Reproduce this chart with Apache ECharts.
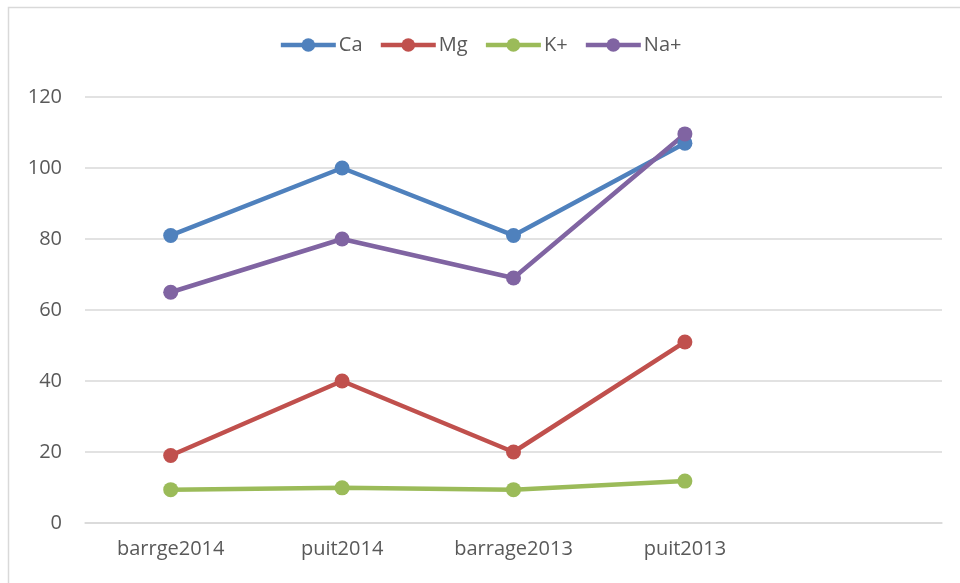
<!DOCTYPE html>
<html>
<head>
<meta charset="utf-8">
<script src="https://cdn.jsdelivr.net/npm/echarts@6/dist/echarts.min.js"></script>
<style>
  html, body { margin: 0; padding: 0; background: #fff; }
  #chart { width: 960px; height: 583px; }
</style>
</head>
<body>
<div id="chart"></div>
<script>
// Sampling sites (the last slot is left empty on the axis)
const categories = ['barrge2014', 'puit2014', 'barrage2013', 'puit2013', ''];

// Ion concentrations per site
const caValues = [81, 100, 81, 107];
const mgValues = [19, 40, 20, 51];
const kValues = [9.4, 9.9, 9.4, 11.8];
const naValues = [65, 80, 69, 109.6];

const yTicks = { min: 0, max: 120, interval: 20 };

const textColor = '#595959';
const gridColor = '#d9d9d9';
const fontFamily = '"Open Sans", "Liberation Sans", sans-serif';

function makeSeries(name, data, color) {
  return {
    name: name,
    type: 'line',
    data: data,
    symbol: 'circle',
    symbolSize: 15,
    lineStyle: { color: color, width: 4.5 },
    itemStyle: { color: color },
    emphasis: { disabled: true },
    animation: false
  };
}

const chart = echarts.init(document.getElementById('chart'));
chart.setOption({
  backgroundColor: '#fff',
  textStyle: { fontFamily: fontFamily },
  graphic: [{
    type: 'rect',
    shape: { x: 8.5, y: 7.5, width: 1000, height: 1000 },
    style: { fill: 'none', stroke: gridColor, lineWidth: 1.5 },
    silent: true
  }],
  legend: {
    top: 30,
    left: 'center',
    itemWidth: 55,
    itemHeight: 17,
    itemGap: 16,
    lineStyle: { width: 4.5 },
    textStyle: { color: textColor, fontSize: 20, fontFamily: fontFamily, padding: [0, 0, 0, -2] },
    data: ['Ca', 'Mg', 'K+', 'Na+']
  },
  grid: { left: 85, right: 18, top: 97, bottom: 60, containLabel: false },
  xAxis: {
    type: 'category',
    data: categories,
    boundaryGap: true,
    axisLine: { lineStyle: { color: gridColor, width: 1.5 } },
    axisTick: { show: false },
    axisLabel: { color: textColor, fontSize: 20, margin: 16, fontFamily: fontFamily }
  },
  yAxis: {
    type: 'value',
    min: yTicks.min,
    max: yTicks.max,
    interval: yTicks.interval,
    axisLine: { show: false },
    axisTick: { show: false },
    axisLabel: { color: textColor, fontSize: 20, margin: 23, fontFamily: fontFamily },
    splitLine: { lineStyle: { color: gridColor, width: 1.5 } }
  },
  series: [
    makeSeries('Ca', caValues, '#4f81bd'),
    makeSeries('Mg', mgValues, '#c0504d'),
    makeSeries('K+', kValues, '#9bbb59'),
    makeSeries('Na+', naValues, '#8064a2')
  ],
  animation: false
});
</script>
</body>
</html>
